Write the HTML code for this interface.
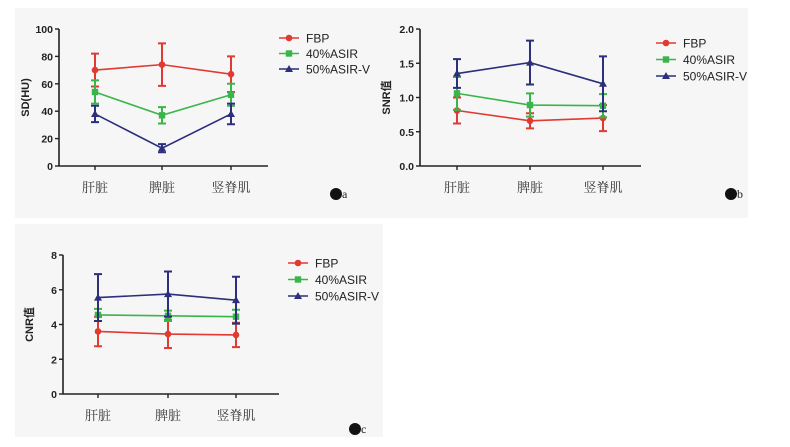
<!DOCTYPE html>
<html><head><meta charset="utf-8"><style>
body{margin:0;width:790px;height:442px;background:#fff;overflow:hidden;font-family:"Liberation Sans","Noto Sans CJK SC",sans-serif}
</style></head><body>
<svg id="s" width="790" height="442" xmlns="http://www.w3.org/2000/svg">
<rect x="15" y="8" width="365" height="210" fill="#f6f6f6"/>
<rect x="380" y="8" width="368" height="210" fill="#f6f6f6"/>
<rect x="15" y="224" width="368" height="213" fill="#f6f6f6"/>
</svg>
<script>
const categories=["肝脏","脾脏","竖脊肌"];
const seriesNames=["FBP","40%ASIR","50%ASIR-V"];
const aMean=[[70,74,67],[54,37,52],[38,13,38]];
const aErr=[[12,15.5,13],[8.5,6,8],[6,3,7.5]];
const bMean=[[0.81,0.66,0.70],[1.06,0.89,0.88],[1.35,1.51,1.20]];
const bErr=[[0.19,0.11,0.19],[0.24,0.17,0.17],[0.21,0.32,0.40]];
const cMean=[[3.6,3.45,3.4],[4.55,4.5,4.45],[5.55,5.75,5.4]];
const cErr=[[0.85,0.8,0.7],[0.35,0.3,0.4],[1.35,1.3,1.35]];
const aTicks=["0","20","40","60","80","100"];
const bTicks=["0.0","0.5","1.0","1.5","2.0"];
const cTicks=["0","2","4","6","8"];
const colors=["#e03a32","#3ab54a","#2b2f7c"];
const NS="http://www.w3.org/2000/svg";
const svg=document.getElementById('s');
function el(t,a,txt){const e=document.createElementNS(NS,t);for(const k in a)e.setAttribute(k,a[k]);if(txt!==undefined)e.textContent=txt;svg.appendChild(e);return e;}
function marker(i,x,y){
 let m;
 if(i===0)m=el('circle',{cx:x,cy:y,r:3.3,fill:colors[i]});
 else if(i===1)m=el('rect',{x:x-3.2,y:y-3.2,width:6.4,height:6.4,fill:colors[i]});
 else m=el('polygon',{points:`${x},${y-4} ${x-4},${y+3} ${x+4},${y+3}`,fill:colors[i]});
 return m;
}
function panel(p,o){
 const yv=v=>o.y0-(v-o.min)/(o.max-o.min)*(o.y0-o.y1);
 const xv=i=>o.cx[i];
 let e=el('line',{x1:o.x0,y1:o.y1,x2:o.x0,y2:o.y0+0.5,stroke:'#222','stroke-width':1.6});
 
 e=el('line',{x1:o.x0,y1:o.y0,x2:o.xe,y2:o.y0,stroke:'#222','stroke-width':1.6});
 
 o.ticks.forEach((t,k)=>{const v=o.min+k*(o.max-o.min)/(o.ticks.length-1);const y=yv(v);
  el('line',{x1:o.x0-4,y1:y,x2:o.x0,y2:y,stroke:'#222','stroke-width':1.4});
  e=el('text',{x:o.x0-6,y:y+4,'text-anchor':'end','font-size':10.5,'font-weight':'bold',fill:'#222'},t);
  });
 categories.forEach((c,i)=>{el('line',{x1:xv(i),y1:o.y0,x2:xv(i),y2:o.y0+4,stroke:'#222','stroke-width':1.4});
  e=el('text',{x:xv(i),y:o.y0+26,'text-anchor':'middle','font-size':13,fill:'#333','font-family':'"Noto Serif CJK SC",serif'},c);
  });
 e=el('text',{x:0,y:0,transform:`translate(${o.x0-30},${(o.y0+o.y1)/2}) rotate(-90)`,'text-anchor':'middle','font-size':11,'font-weight':'bold',fill:'#222'},o.title);
 
 o.mean.forEach((s,i)=>{
  const pts=s.map((v,j)=>xv(j)+','+yv(v)).join(' ');
  e=el('polyline',{points:pts,fill:'none',stroke:colors[i],'stroke-width':1.6});
  
  s.forEach((v,j)=>{const x=xv(j),a=yv(v+o.err[i][j]),b=yv(v-o.err[i][j]);
   e=el('path',{d:`M${x},${a}V${b}M${x-4},${a}H${x+4}M${x-4},${b}H${x+4}`,stroke:colors[i],'stroke-width':2,fill:'none'});
   
   e=marker(i,x,yv(v));});
 });
 seriesNames.forEach((n,i)=>{const y=o.ly+i*o.lg;
  el('line',{x1:o.lx,y1:y,x2:o.lx+20,y2:y,stroke:colors[i],'stroke-width':1.6});
  marker(i,o.lx+10,y);
  e=el('text',{x:o.lx+27,y:y+4.5,'font-size':12,fill:'#222'},n);
  });
 e=el('circle',{cx:o.tag[0],cy:o.tag[1],r:6,fill:'#111'});
 e=el('text',{x:o.tag[0]+6,y:o.tag[1]+4,'font-size':12,fill:'#222','font-family':'"Liberation Serif",serif'},o.tagT);
 
}
panel('panel-a',{x0:59,xe:268,y0:166,y1:29,min:0,max:100,cx:[95,162,231],ticks:aTicks,mean:aMean,err:aErr,title:'SD(HU)',lx:279,ly:38,lg:15.5,tag:[336,194],tagT:'a'});
panel('panel-b',{x0:420,xe:641,y0:166,y1:29,min:0,max:2,cx:[457,530,603],ticks:bTicks,mean:bMean,err:bErr,title:'SNR值',lx:656,ly:43,lg:16.5,tag:[731,194],tagT:'b'});
panel('panel-c',{x0:63,xe:279,y0:394,y1:255,min:0,max:8,cx:[98,168,236],ticks:cTicks,mean:cMean,err:cErr,title:'CNR值',lx:288,ly:263,lg:16.5,tag:[355,429],tagT:'c'});
</script>
</body></html>
